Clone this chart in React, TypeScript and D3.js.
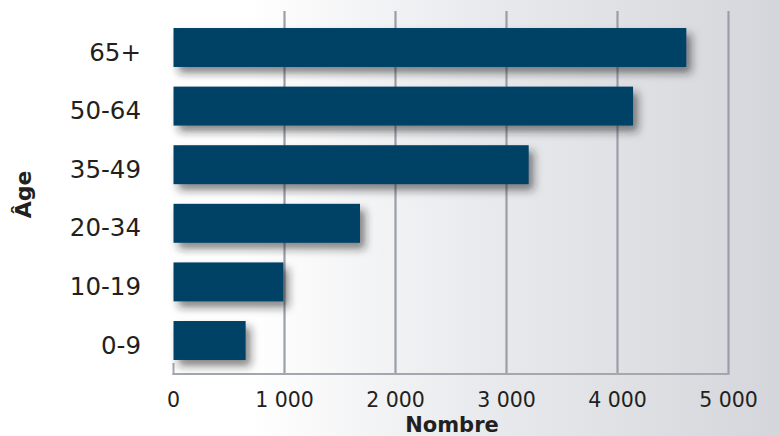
import React from "react";
import * as d3 from "d3";

const categories = ["65+", "50-64", "35-49", "20-34", "10-19", "0-9"];
const values = [4620, 4140, 3200, 1680, 990, 650];
const xTicks = [0, 1000, 2000, 3000, 4000, 5000];
const xTickLabels = ["0", "1 000", "2 000", "3 000", "4 000", "5 000"];
const xTitle = "Nombre";
const yTitle = "Âge";

const W = 780;
const H = 436;
const FONT = "'DejaVu Sans', sans-serif";

export default function App() {
  const x = d3.scaleLinear().domain([0, 5000]).range([173.5, 728.5]);
  const y = d3.scaleBand<string>().domain(categories).range([18.2, 369.8]).paddingInner(0.335).paddingOuter(0.1675);
  const axisY = 374;
  const gridTop = 11;

  return (
    <svg width={W} height={H} style={{ position: "absolute", left: 0, top: 0 }} xmlns="http://www.w3.org/2000/svg">
      <defs>
        <linearGradient id="bg" x1="0" y1="0" x2="1" y2="0">
          <stop offset="0" stopColor="#ffffff" />
          <stop offset="0.32" stopColor="#ffffff" />
          <stop offset="0.6" stopColor="#eaebee" />
          <stop offset="1" stopColor="#d4d6db" />
        </linearGradient>
        <filter id="shadow" x="-10%" y="-30%" width="130%" height="180%">
          <feDropShadow dx="5" dy="6" stdDeviation="4" floodColor="#222" floodOpacity="0.55" />
        </filter>
      </defs>
      <rect x={0} y={0} width={W} height={H} fill="url(#bg)" />
      {/* grid lines */}
      {xTicks.slice(1).map((t) => (
        <line key={t} x1={x(t)} x2={x(t)} y1={gridTop} y2={axisY} stroke="#9a9ea8" strokeWidth={2.2} />
      ))}
      {/* axis */}
      <line x1={x(0) - 1} x2={x(5000) + 1} y1={axisY} y2={axisY} stroke="#a3a7b0" strokeWidth={2.2} />
      <line x1={x(0)} x2={x(0)} y1={363} y2={axisY + 1} stroke="#a3a7b0" strokeWidth={2} />
      {/* bars */}
      {categories.map((c, i) => (
        <rect
          key={c}
          x={x(0)}
          y={y(c)!}
          width={x(values[i]) - x(0)}
          height={y.bandwidth()}
          fill="#004266"
          filter="url(#shadow)"
        />
      ))}
      {/* y labels */}
      {categories.map((c) => (
        <text
          key={c}
          x={141}
          y={y(c)! + y.bandwidth() / 2 + 13}
          textAnchor="end"
          fontFamily={FONT}
          fontSize={24.5}
          fill="#231f20"
        >
          {c}
        </text>
      ))}
      {/* x labels */}
      {xTicks.map((t, i) => (
        <text
          key={t}
          x={x(t)}
          y={407}
          textAnchor="middle"
          fontFamily={FONT}
          fontSize={20.5}
          fill="#231f20"
        >
          {xTickLabels[i]}
        </text>
      ))}
      <text x={452} y={432} textAnchor="middle" fontFamily={FONT} fontWeight="bold" fontSize={21} fill="#231f20">
        {xTitle}
      </text>
      <text
        transform={`translate(31,194.5) rotate(-90)`}
        textAnchor="middle"
        fontFamily={FONT}
        fontWeight="bold"
        fontSize={22}
        fill="#231f20"
      >
        {yTitle}
      </text>
    </svg>
  );
}
